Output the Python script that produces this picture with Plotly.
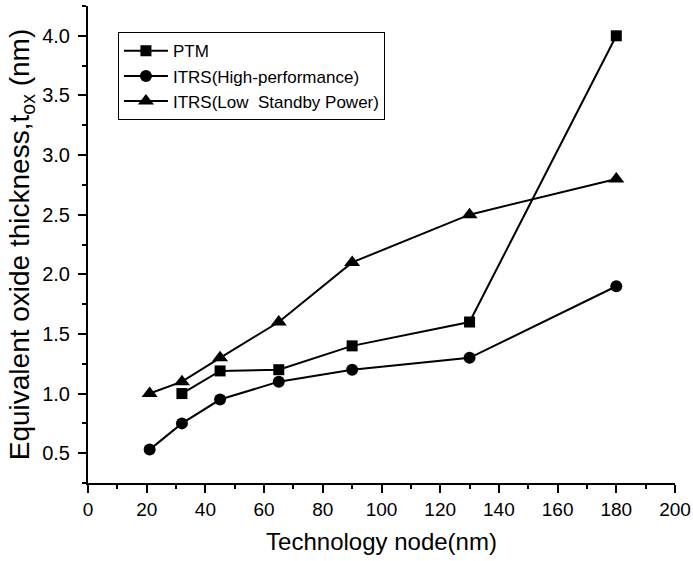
import plotly.graph_objects as go

# Technology node (nm) and equivalent oxide thickness (nm)
ptm_nodes = [32, 45, 65, 90, 130, 180]
ptm_tox = [1.0, 1.19, 1.2, 1.4, 1.6, 4.0]

hp_nodes = [21, 32, 45, 65, 90, 130, 180]
hp_tox = [0.53, 0.75, 0.95, 1.1, 1.2, 1.3, 1.9]

lstp_nodes = [21, 32, 45, 65, 90, 130, 180]
lstp_tox = [1.0, 1.1, 1.3, 1.6, 2.1, 2.5, 2.8]

x_ticks = [0, 20, 40, 60, 80, 100, 120, 140, 160, 180, 200]
y_ticks = [0.5, 1.0, 1.5, 2.0, 2.5, 3.0, 3.5, 4.0]

FONT = "Liberation Sans, Arial, sans-serif"

fig = go.Figure()
fig.add_trace(go.Scatter(
    x=ptm_nodes, y=ptm_tox, name="PTM", mode="lines+markers",
    line=dict(color="black", width=2),
    marker=dict(symbol="square", size=11, color="black"),
))
fig.add_trace(go.Scatter(
    x=hp_nodes, y=hp_tox, name="ITRS(High-performance)", mode="lines+markers",
    line=dict(color="black", width=2),
    marker=dict(symbol="circle", size=12, color="black"),
))
fig.add_trace(go.Scatter(
    x=lstp_nodes, y=lstp_tox, name="ITRS(Low  Standby Power)", mode="lines+markers",
    line=dict(color="black", width=2),
    marker=dict(symbol="triangle-up", size=14, color="black"),
))

fig.update_layout(
    width=693, height=561,
    margin=dict(l=88, r=18, t=6, b=78),
    paper_bgcolor="white", plot_bgcolor="white",
    font=dict(family=FONT, color="black", size=16),
    showlegend=True,
    legend=dict(
        x=0.051, y=0.945, xanchor="left", yanchor="top",
        bgcolor="white", bordercolor="black", borderwidth=1,
        font=dict(size=17, family=FONT), tracegroupgap=0,
        itemwidth=44,
    ),
    xaxis=dict(
        range=[0, 200], tickvals=x_ticks, ticktext=[str(v) for v in x_ticks],
        automargin=False,
        showgrid=False, zeroline=False,
        showline=True, linecolor="black", linewidth=2,
        ticks="outside", ticklen=8, tickwidth=2, tickcolor="black",
        minor=dict(dtick=10, ticks="outside", ticklen=4, tickwidth=2, tickcolor="black"),
        tickfont=dict(size=19),
        title=dict(text="Technology node(nm)", font=dict(size=24), standoff=14),
    ),
    yaxis=dict(
        range=[0.25, 4.25], tickvals=y_ticks, ticktext=[f"{v:.1f}" for v in y_ticks],
        automargin=False,
        showgrid=False, zeroline=False,
        showline=True, linecolor="black", linewidth=2,
        ticks="outside", ticklen=8, tickwidth=2, tickcolor="black",
        ticklabelstandoff=4,
        minor=dict(dtick=0.25, ticks="outside", ticklen=4, tickwidth=2, tickcolor="black"),
        tickfont=dict(size=20),
        title=dict(text="Equivalent oxide thickness,t<sub>ox</sub> (nm)", font=dict(size=28), standoff=4),
    ),
)

fig.write_html("out.html")
